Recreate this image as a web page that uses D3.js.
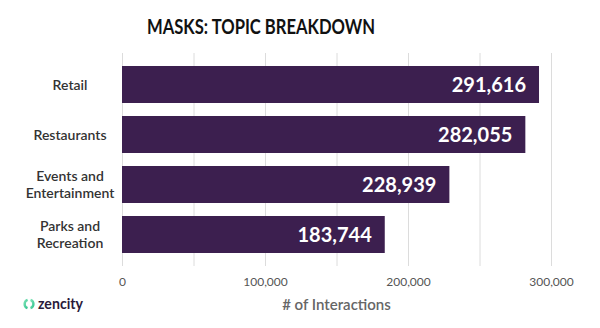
<!DOCTYPE html>
<html><head><meta charset="utf-8">
<script src="https://cdn.jsdelivr.net/npm/d3@7"></script>
<style>body{margin:0;background:#fff}svg{display:block}</style>
</head><body>
<svg id="c" width="600" height="328"></svg>
<script>
const categories = [["Retail"], ["Restaurants"], ["Events and", "Entertainment"], ["Parks and", "Recreation"]];
const values = [291616, 282055, 228939, 183744];
const tickValues = [0, 100000, 200000, 300000];
const gridValues = [0, 50000, 100000, 150000, 200000, 250000, 300000];
const title = "MASKS: TOPIC BREAKDOWN";
const xTitle = "# of Interactions";

const svg = d3.select("#c");
const x = d3.scaleLinear().domain([0, 300000]).range([122, 551]);
const y = d3.scaleBand().domain(d3.range(values.length)).range([59.5, 259.5]).paddingInner(0.26).paddingOuter(0.13);
const fmt = d3.format(",");

svg.append("text").attr("x", 261).attr("y", 34).attr("text-anchor", "middle")
  .attr("font-family", "Lato").attr("font-weight", 700).attr("font-size", 21)
  .attr("textLength", 228).attr("lengthAdjust", "spacingAndGlyphs")
  .attr("fill", "#111").text(title);

svg.append("g").selectAll("line").data(gridValues).join("line")
  .attr("x1", d => x(d) + 0.5).attr("x2", d => x(d) + 0.5)
  .attr("y1", 53).attr("y2", 266).attr("stroke", "#dcdcdc").attr("stroke-width", 1);

svg.append("g").selectAll("rect").data(values).join("rect")
  .attr("x", x(0)).attr("y", (d, i) => y(i)).attr("width", d => x(d) - x(0))
  .attr("height", y.bandwidth()).attr("fill", "#3c1f4f");

svg.append("g").selectAll("text").data(values).join("text")
  .attr("x", d => x(d) - 13).attr("y", (d, i) => y(i) + y.bandwidth() / 2 + 7)
  .attr("text-anchor", "end").attr("font-family", "Lato").attr("font-weight", 700)
  .attr("font-size", 20).attr("fill", "#fff").text(d => fmt(d));

const cat = svg.append("g").selectAll("text").data(categories).join("text")
  .attr("text-anchor", "middle").attr("font-family", "Lato").attr("font-weight", 600)
  .attr("font-size", 14).attr("fill", "#333");
cat.each(function(lines, i) {
  const cy = y(i) + y.bandwidth() / 2;
  const lh = 17.7;
  const t = d3.select(this);
  lines.forEach((l, j) => {
    t.append("tspan").attr("x", 70).attr("y", cy + (j - (lines.length - 1) / 2) * lh + 5).text(l);
  });
});

const axis = d3.axisBottom(x).tickValues(tickValues).tickFormat(fmt).tickSize(0).tickPadding(0);
const ag = svg.append("g").attr("transform", "translate(0,286)").call(axis);
ag.select(".domain").remove();
ag.selectAll("text").attr("font-family", "Lato").attr("font-size", 12).attr("fill", "#555").attr("dy", 0);

svg.append("text").attr("x", x(150000)).attr("y", 310).attr("text-anchor", "middle")
  .attr("font-family", "Lato").attr("font-weight", 600).attr("font-size", 15).attr("fill", "#666").text(xTitle);

// logo
const defs = svg.append("defs");
const g = defs.append("linearGradient").attr("id", "lg").attr("x1", 0).attr("x2", 1).attr("y1", 0).attr("y2", 1);
g.append("stop").attr("offset", 0).attr("stop-color", "#8be8bd");
g.append("stop").attr("offset", 1).attr("stop-color", "#27c08a");
const arc = d3.arc().innerRadius(3.2).outerRadius(5.6);
const logo = svg.append("g").attr("transform", "translate(29,304)");
logo.append("path").attr("d", arc({startAngle: 0.35, endAngle: 2.8})).attr("fill", "url(#lg)");
logo.append("path").attr("d", arc({startAngle: 3.5, endAngle: 5.95})).attr("fill", "url(#lg)");
svg.append("text").attr("x", 38).attr("y", 309).attr("font-family", "Lato").attr("font-weight", 700)
  .attr("font-size", 15).attr("textLength", 45).attr("lengthAdjust", "spacingAndGlyphs")
  .attr("fill", "#2a1a3a").text("zencity");
</script>
</body></html>
